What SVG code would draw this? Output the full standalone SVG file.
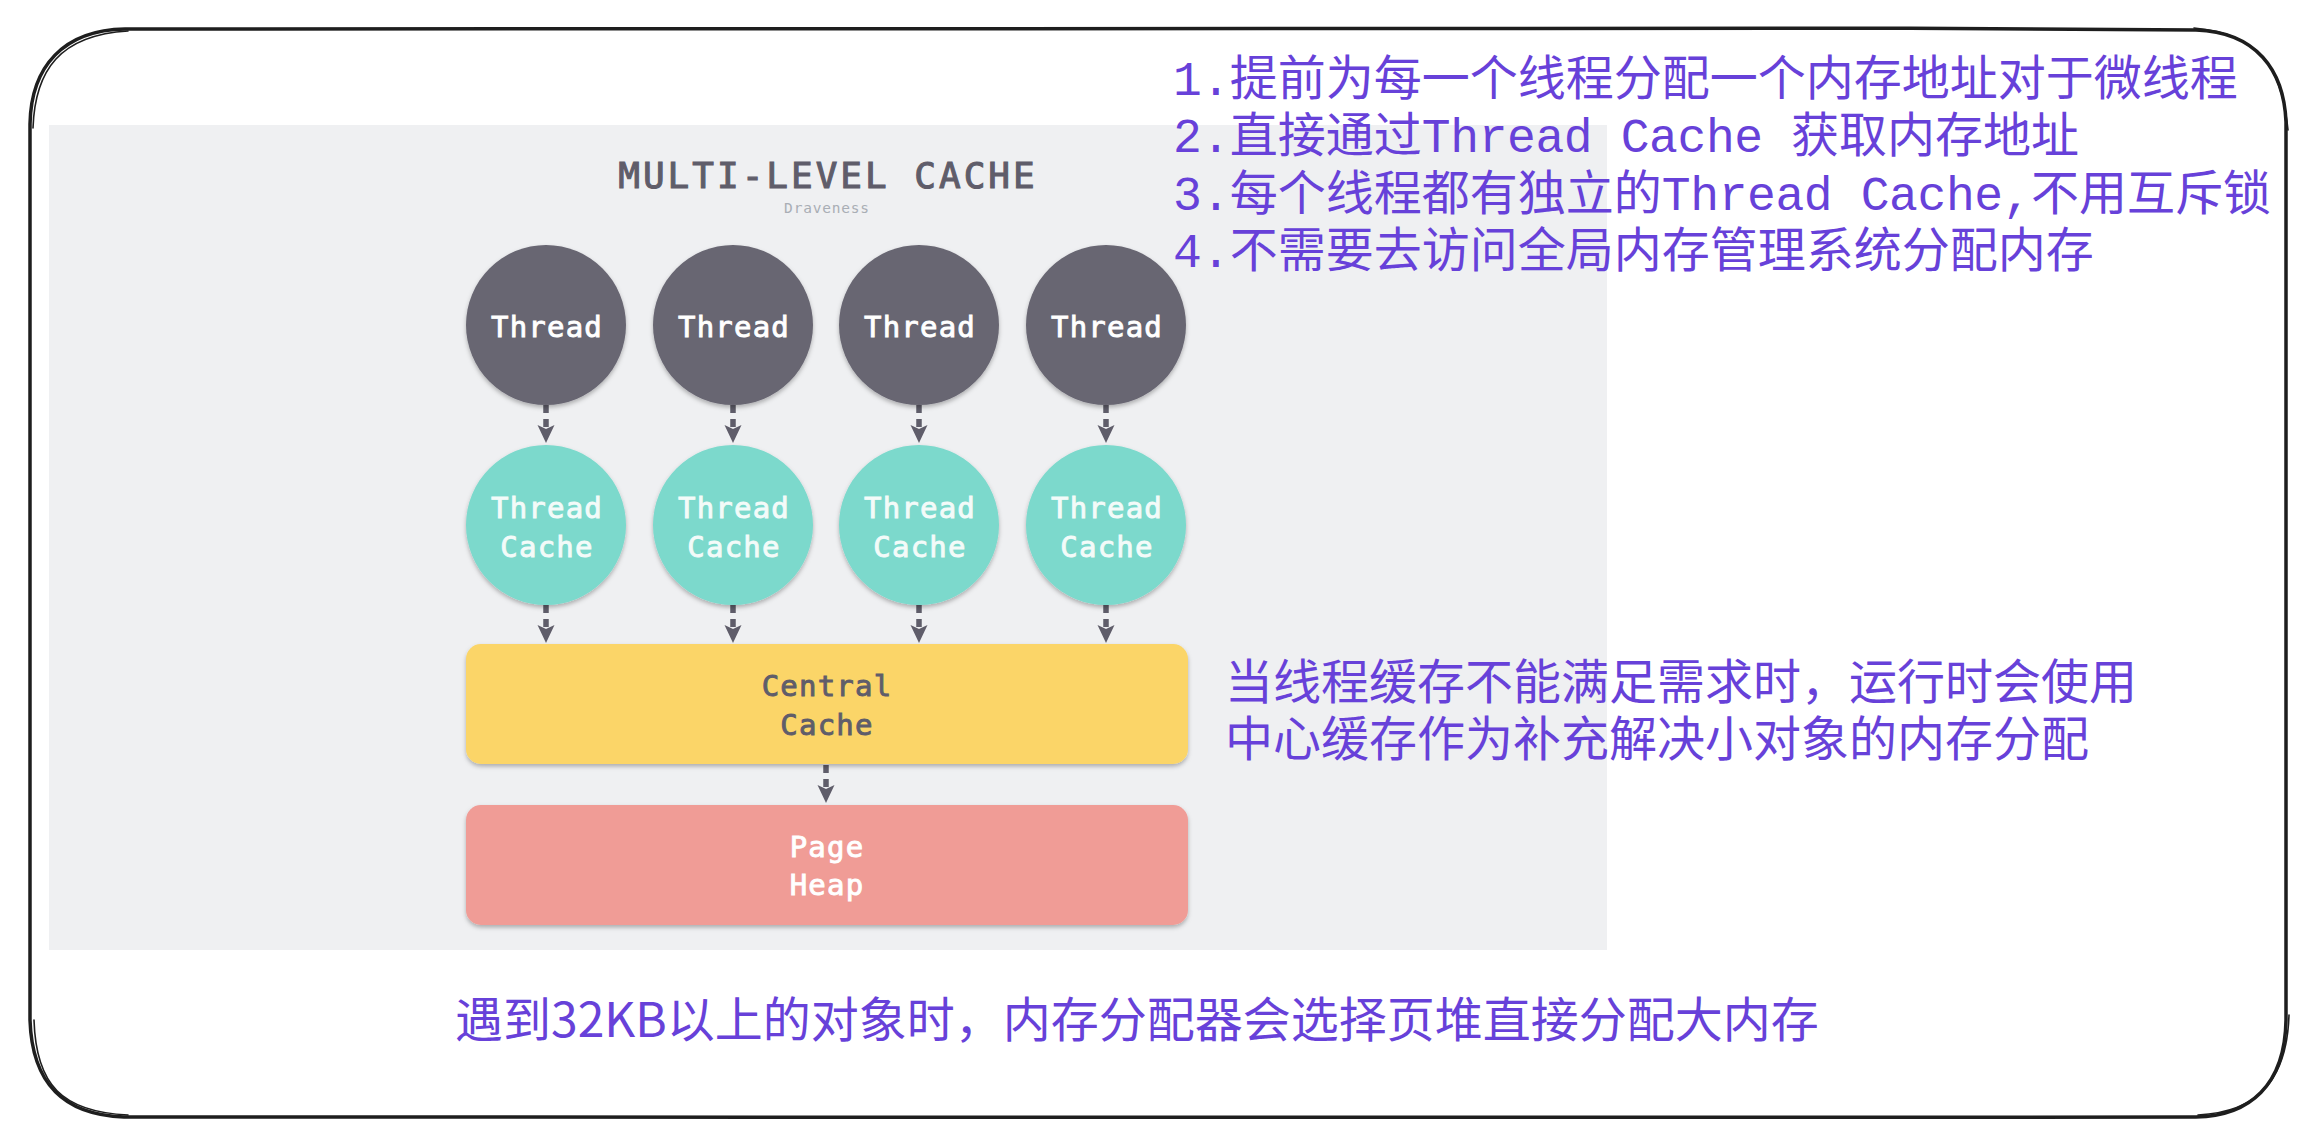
<svg xmlns="http://www.w3.org/2000/svg" width="2316" height="1148" viewBox="0 0 2316 1148">
<defs>
<style>
.mono{font-family:"DejaVu Sans Mono","Liberation Mono",monospace;font-weight:normal;font-size:29px;letter-spacing:1.2px;text-anchor:middle;stroke-width:0.9px;paint-order:stroke}
.lbl-dark{fill:#5f5d6a;stroke:#5f5d6a}
.lbl-light{fill:#ffffff;stroke:#ffffff}
.lbl-teal{fill:#f3fbf9;stroke:#f3fbf9}
.thread{fill:#686672}
.tcache{fill:#7bd9cc}
.note{font-family:"Noto Sans CJK SC","Noto Sans",sans-serif;font-size:48px;fill:#6741d9}
.note .m{font-family:"Liberation Mono","DejaVu Sans Mono",monospace;letter-spacing:-0.4px}
.conn{stroke:#5f5d6a;stroke-width:5.5;fill:none;stroke-dasharray:8 6}
.border{fill:none;stroke:#1e1e1e;stroke-linecap:round;stroke-linejoin:round}
</style>
<filter id="sh" x="-20%" y="-20%" width="140%" height="150%">
<feDropShadow dx="0" dy="2.5" stdDeviation="2" flood-color="#000" flood-opacity="0.28"/>
</filter>
<marker id="ah" markerUnits="userSpaceOnUse" markerWidth="20" markerHeight="18" refX="3" refY="8.5" orient="auto">
<path d="M0 0 L18 8.5 L0 17 L4 8.5 Z" fill="#5f5d6a"/>
</marker>
</defs>

<rect x="0" y="0" width="2316" height="1148" fill="#ffffff"/>

<g id="frame">
<path class="border" stroke-width="3.5" d="M125 29 C800 27 1500 25 2196 30 C2256 32 2284 70 2286 122 C2288 420 2287 720 2286 1020 C2285 1085 2250 1116 2196 1117 C1500 1118 800 1118 124 1117 C62 1115 32 1082 30 1020 C29 720 29 420 30 124 C31 66 64 30 125 29 Z"/>
<path class="border" stroke-width="1.6" d="M128 31 C60 35 35 70 33 128 M2194 28 C2262 34 2282 70 2288 130 M2289 1015 C2287 1080 2258 1112 2198 1115 M34 1020 C36 1085 62 1112 128 1115"/>
</g>

<rect id="panel" x="49" y="125" width="1558" height="825" fill="#eff0f2"/>

<g id="title">
<text x="828" y="188" font-family="DejaVu Sans Mono, monospace" font-size="36" letter-spacing="3" text-anchor="middle" fill="#5f5d6a" stroke="#5f5d6a" stroke-width="1.1">MULTI-LEVEL CACHE</text>
<text x="827" y="213" font-family="DejaVu Sans Mono, monospace" font-size="14.5" letter-spacing="0.8" text-anchor="middle" fill="#a9aeb5">Draveness</text>
</g>

<g id="connectors">
<path class="conn" d="M546 405 V428" marker-end="url(#ah)"/>
<path class="conn" d="M733 405 V428" marker-end="url(#ah)"/>
<path class="conn" d="M919 405 V428" marker-end="url(#ah)"/>
<path class="conn" d="M1106 405 V428" marker-end="url(#ah)"/>
<path class="conn" d="M546 605 V628" marker-end="url(#ah)"/>
<path class="conn" d="M733 605 V628" marker-end="url(#ah)"/>
<path class="conn" d="M919 605 V628" marker-end="url(#ah)"/>
<path class="conn" d="M1106 605 V628" marker-end="url(#ah)"/>
<path class="conn" d="M826 765 V788" marker-end="url(#ah)"/>
</g>

<g id="thread1"><circle class="thread" cx="546" cy="325" r="80" filter="url(#sh)"/><text class="mono lbl-light" x="547" y="337">Thread</text></g>
<g id="thread2"><circle class="thread" cx="733" cy="325" r="80" filter="url(#sh)"/><text class="mono lbl-light" x="734" y="337">Thread</text></g>
<g id="thread3"><circle class="thread" cx="919" cy="325" r="80" filter="url(#sh)"/><text class="mono lbl-light" x="920" y="337">Thread</text></g>
<g id="thread4"><circle class="thread" cx="1106" cy="325" r="80" filter="url(#sh)"/><text class="mono lbl-light" x="1107" y="337">Thread</text></g>

<g id="tcache1"><circle class="tcache" cx="546" cy="525" r="80" filter="url(#sh)"/><text class="mono lbl-teal" x="547" y="518">Thread</text><text class="mono lbl-teal" x="547" y="557">Cache</text></g>
<g id="tcache2"><circle class="tcache" cx="733" cy="525" r="80" filter="url(#sh)"/><text class="mono lbl-teal" x="734" y="518">Thread</text><text class="mono lbl-teal" x="734" y="557">Cache</text></g>
<g id="tcache3"><circle class="tcache" cx="919" cy="525" r="80" filter="url(#sh)"/><text class="mono lbl-teal" x="920" y="518">Thread</text><text class="mono lbl-teal" x="920" y="557">Cache</text></g>
<g id="tcache4"><circle class="tcache" cx="1106" cy="525" r="80" filter="url(#sh)"/><text class="mono lbl-teal" x="1107" y="518">Thread</text><text class="mono lbl-teal" x="1107" y="557">Cache</text></g>

<g id="central"><rect x="466" y="644" width="722" height="120" rx="15" fill="#fbd567" filter="url(#sh)"/><text class="mono lbl-dark" x="827" y="696">Central</text><text class="mono lbl-dark" x="827" y="735">Cache</text></g>

<g id="pageheap"><rect x="466" y="805" width="722" height="120" rx="15" fill="#f09c96" filter="url(#sh)"/><text class="mono lbl-light" x="827" y="857">Page</text><text class="mono lbl-light" x="827" y="895">Heap</text></g>

<g id="note-top" class="note">
<text x="1173" y="95"><tspan class="m">1.</tspan>提前为每一个线程分配一个内存地址对于微线程</text>
<text x="1173" y="152"><tspan class="m">2.</tspan>直接通过<tspan class="m">Thread Cache </tspan>获取内存地址</text>
<text x="1173" y="210"><tspan class="m">3.</tspan>每个线程都有独立的<tspan class="m">Thread Cache,</tspan>不用互斥锁</text>
<text x="1173" y="267"><tspan class="m">4.</tspan>不需要去访问全局内存管理系统分配内存</text>
</g>

<g id="note-central" class="note">
<text x="1225" y="699">当线程缓存不能满足需求时，运行时会使用</text>
<text x="1225" y="756">中心缓存作为补充解决小对象的内存分配</text>
</g>

<g id="note-bottom" class="note">
<text x="455" y="1037">遇到32KB以上的对象时，内存分配器会选择页堆直接分配大内存</text>
</g>
</svg>
